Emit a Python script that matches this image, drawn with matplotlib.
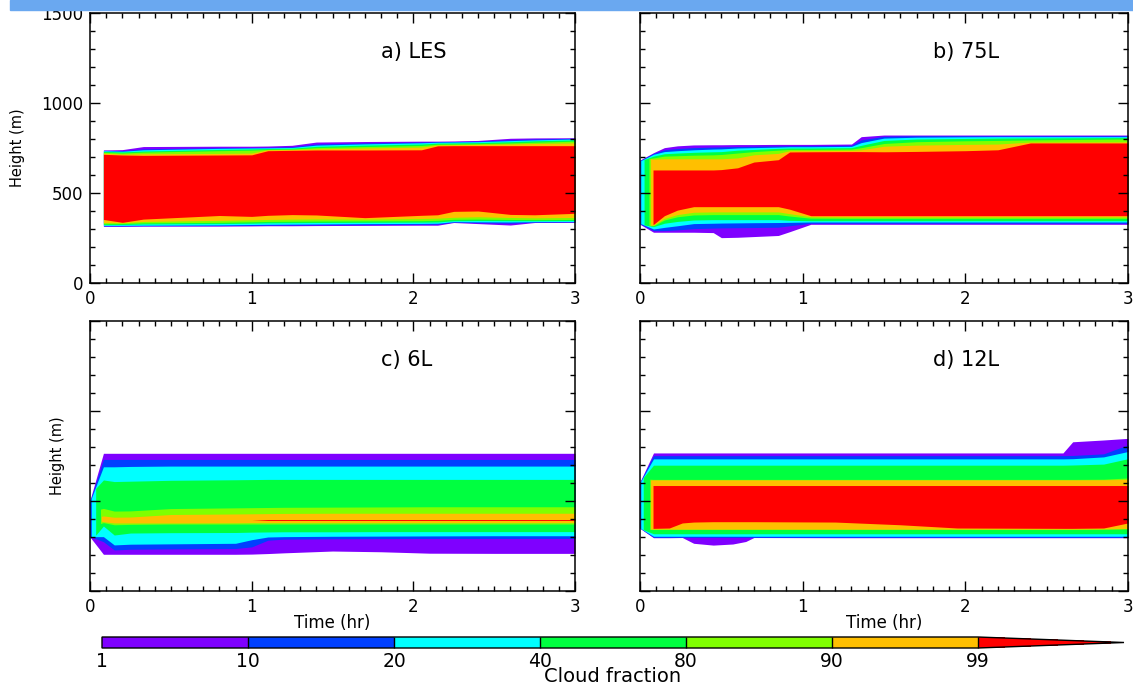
import numpy as np
import matplotlib
matplotlib.use("Agg")
import matplotlib.pyplot as plt
from matplotlib.colors import ListedColormap, BoundaryNorm
from matplotlib.cm import ScalarMappable
from matplotlib.patches import Rectangle
from matplotlib.ticker import MultipleLocator

plt.rcParams['font.family'] = ['DejaVu Sans']

# cloud fraction contour levels (%) and their fill colours
levels = [1, 10, 20, 40, 80, 90, 99]
colors = ['#7f00ff', '#0040ff', '#00ffff', '#00ff40', '#80ff00', '#ffbf00', '#ff0000']

# each panel: times (hr), then for every level the top / bottom height (m)
# of the region where cloud fraction >= level.  For b, c, d the first column
# is the left edge of the cloud, reached at the per-level onset time.

# a) LES
a_t = [0.083, 0.2, 0.33, 0.8, 1.0, 1.1, 1.25, 1.4, 1.7, 2.05, 2.15, 2.25, 2.4, 2.6, 2.75, 3.0]
a_top = [
    [739, 741, 758, 760, 760, 761, 765, 783, 786, 788, 788, 789, 792, 804, 806, 807],
    [737, 735, 745, 752, 753, 754, 757, 772, 778, 783, 785, 786, 788, 796, 800, 804],
    [735, 732, 740, 748, 750, 751, 753, 766, 773, 779, 782, 783, 785, 791, 795, 800],
    [731, 728, 733, 742, 745, 747, 749, 759, 766, 772, 777, 778, 780, 785, 790, 795],
    [726, 722, 727, 735, 738, 742, 744, 752, 758, 764, 771, 772, 774, 778, 782, 788],
    [721, 716, 718, 720, 722, 740, 741, 745, 750, 755, 767, 768, 770, 772, 775, 778],
    [715, 711, 709, 711, 712, 735, 737, 739, 739, 740, 762, 763, 763, 763, 763, 763],
]
a_bot = [
    [315, 315, 316, 316, 317, 318, 318, 319, 320, 321, 321, 336, 330, 322, 336, 337],
    [317, 317, 318, 319, 320, 321, 322, 323, 324, 326, 327, 338, 335, 332, 338, 339],
    [320, 320, 321, 323, 325, 326, 327, 328, 330, 331, 332, 341, 340, 339, 341, 342],
    [324, 325, 328, 330, 332, 334, 335, 336, 337, 338, 339, 346, 347, 346, 346, 347],
    [329, 330, 334, 337, 340, 342, 343, 344, 345, 346, 348, 354, 355, 353, 352, 353],
    [336, 335, 342, 348, 351, 353, 355, 356, 355, 358, 360, 365, 368, 364, 362, 364],
    [353, 337, 355, 375, 370, 376, 380, 378, 363, 376, 379, 398, 400, 381, 379, 387],
]

# b) 75L
b_t = [0, 0.083, 0.15, 0.23, 0.33, 0.45, 0.5, 0.6, 0.7, 0.85, 0.92, 1.05, 1.3, 1.36, 1.5, 1.7, 2.0, 2.2, 2.4, 3.0]
b_onset = [0, 0, 0.005, 0.025, 0.055, 0.065, 0.08]
b_top = [
    [683, 724, 752, 762, 767, 768, 768, 769, 769, 770, 770, 770, 772, 813, 822, 822, 822, 822, 822, 822],
    [681, 720, 740, 747, 752, 755, 756, 758, 760, 762, 763, 763, 765, 795, 815, 818, 818, 818, 818, 818],
    [680, 715, 730, 735, 740, 744, 745, 750, 752, 755, 757, 757, 759, 780, 805, 810, 812, 813, 813, 813],
    [686, 705, 718, 722, 726, 729, 730, 738, 742, 748, 750, 750, 752, 765, 792, 800, 803, 805, 806, 808],
    [692, 695, 705, 707, 710, 712, 714, 722, 730, 738, 742, 742, 744, 752, 775, 785, 790, 792, 795, 800],
    [690, 688, 690, 690, 690, 690, 690, 695, 712, 720, 735, 735, 737, 740, 760, 766, 770, 772, 783, 784],
    [628, 628, 628, 628, 628, 628, 630, 640, 672, 685, 728, 729, 730, 730, 729, 731, 735, 740, 778, 778],
]
b_bot = [
    [326, 282, 282, 282, 282, 280, 252, 254, 258, 264, 285, 326, 326, 326, 326, 326, 326, 326, 326, 326],
    [328, 291, 291, 295, 302, 305, 306, 307, 308, 310, 318, 332, 332, 332, 332, 332, 332, 332, 332, 332],
    [330, 300, 309, 318, 330, 332, 333, 334, 335, 336, 337, 339, 339, 339, 339, 339, 339, 339, 339, 339],
    [323, 313, 332, 342, 350, 352, 352, 352, 352, 352, 348, 346, 346, 346, 346, 346, 346, 346, 346, 346],
    [320, 318, 350, 368, 378, 380, 380, 380, 380, 380, 372, 360, 359, 359, 359, 359, 359, 359, 359, 359],
    [321, 322, 359, 380, 393, 395, 395, 395, 395, 395, 385, 368, 367, 367, 367, 367, 367, 367, 367, 367],
    [326, 326, 374, 405, 424, 424, 424, 424, 424, 424, 410, 374, 374, 374, 374, 374, 374, 374, 374, 374],
]

# c) 6L
c_t = [0, 0.083, 0.15, 0.25, 0.5, 0.9, 1.0, 1.1, 1.2, 1.5, 1.8, 2.1, 2.5, 3.0]
c_onset = [0, 0, 0.008, 0.035, 0.065, 0.07, 0.083]
c_top = [
    [505, 765, 765, 765, 765, 765, 765, 765, 765, 765, 765, 765, 765, 765],
    [500, 731, 731, 731, 731, 731, 731, 731, 731, 731, 731, 731, 731, 731],
    [515, 690, 690, 692, 694, 694, 694, 694, 694, 694, 694, 694, 694, 694],
    [570, 617, 608, 610, 615, 618, 619, 620, 620, 620, 620, 620, 620, 620],
    [455, 459, 444, 445, 458, 462, 463, 464, 465, 466, 467, 468, 468, 468],
    [415, 417, 410, 411, 425, 428, 429, 430, 431, 432, 432, 432, 432, 432],
    [394, 394, 394, 394, 394, 394, 394, 397, 397, 397, 397, 397, 397, 397],
]
c_bot = [
    [300, 204, 204, 204, 204, 204, 205, 208, 212, 222, 218, 210, 209, 209],
    [303, 274, 228, 232, 234, 236, 245, 282, 288, 290, 291, 292, 292, 292],
    [302, 302, 256, 260, 262, 265, 285, 300, 302, 304, 305, 306, 307, 307],
    [310, 361, 311, 322, 324, 325, 327, 328, 329, 329, 330, 330, 330, 330],
    [375, 380, 368, 370, 372, 372, 372, 372, 372, 372, 372, 372, 372, 372],
    [388, 385, 378, 378, 378, 379, 380, 380, 380, 380, 380, 380, 380, 380],
    [394, 394, 394, 394, 394, 394, 394, 392, 392, 392, 392, 392, 392, 392],
]

# d) 12L
d_t = [0, 0.083, 0.18, 0.26, 0.33, 0.45, 0.57, 0.65, 0.70, 1.2, 1.6, 1.95, 2.6, 2.66, 2.85, 3.0]
d_onset = [0, 0, 0.005, 0.02, 0.06, 0.065, 0.08]
d_top = [
    [607, 767, 767, 767, 767, 767, 767, 767, 767, 767, 767, 767, 767, 829, 839, 848],
    [605, 752, 752, 752, 752, 752, 752, 752, 752, 752, 752, 752, 752, 753, 762, 812],
    [610, 734, 734, 734, 734, 734, 734, 734, 734, 734, 734, 734, 734, 735, 745, 775],
    [630, 699, 699, 699, 699, 699, 699, 699, 699, 699, 699, 699, 699, 700, 705, 735],
    [621, 620, 620, 620, 620, 620, 620, 620, 620, 620, 620, 620, 620, 620, 621, 628],
    [617, 617, 617, 617, 617, 617, 617, 617, 617, 617, 617, 617, 617, 617, 618, 620],
    [586, 586, 586, 586, 586, 586, 586, 586, 586, 586, 586, 586, 586, 586, 586, 586],
]
d_bot = [
    [348, 296, 296, 297, 265, 255, 261, 275, 297, 296, 296, 296, 296, 296, 296, 296],
    [349, 298, 298, 298, 298, 298, 298, 298, 298, 298, 298, 298, 298, 298, 298, 298],
    [347, 304, 304, 304, 304, 304, 304, 304, 304, 304, 304, 304, 304, 304, 304, 304],
    [341, 318, 318, 318, 318, 318, 318, 318, 318, 318, 318, 318, 318, 318, 318, 318],
    [342, 342, 342, 342, 342, 342, 342, 342, 342, 342, 342, 342, 342, 342, 343, 345],
    [344, 344, 344, 344, 344, 344, 344, 344, 344, 344, 344, 344, 344, 344, 345, 347],
    [348, 348, 350, 378, 383, 385, 385, 385, 385, 383, 368, 350, 348, 348, 350, 378],
]

cmap = ListedColormap(colors[:-1]).with_extremes(over=colors[-1])
norm = BoundaryNorm(levels, cmap.N)

W, H = 1133, 685
fig = plt.figure(figsize=(W / 100, H / 100), dpi=100)


def px_axes(l, t, r, b):
    return fig.add_axes([l / W, 1 - b / H, (r - l) / W, (b - t) / H])


def draw_cloud(ax, t, top, bot, onset=None):
    for k, lev in enumerate(levels):
        tt = np.array(t, dtype=float)
        if onset is not None:
            tt[0] = onset[k]
        ax.fill_between(tt, bot[k], top[k], color=cmap(norm(lev)), lw=0)


def style(ax, ylabels):
    ax.set_xlim(0, 3)
    ax.set_ylim(0, 1500)
    ax.xaxis.set_major_locator(MultipleLocator(1))
    ax.xaxis.set_minor_locator(MultipleLocator(0.1))
    ax.yaxis.set_major_locator(MultipleLocator(500))
    ax.yaxis.set_minor_locator(MultipleLocator(100))
    ax.tick_params(which='both', direction='in', top=True, right=True,
                   labelsize=12, pad=5, labelleft=ylabels)
    ax.tick_params(which='major', length=7, width=1)
    ax.tick_params(which='minor', length=3.5, width=1)
    for s in ax.spines.values():
        s.set_linewidth(1.1)


panels = [
    ((90, 13, 575, 283), a_t, a_top, a_bot, None, 'a) LES'),
    ((640, 13, 1128, 283), b_t, b_top, b_bot, b_onset, 'b) 75L'),
    ((90, 321, 575, 591), c_t, c_top, c_bot, c_onset, 'c) 6L'),
    ((640, 321, 1128, 591), d_t, d_top, d_bot, d_onset, 'd) 12L'),
]
axes = []
for i, (box, t, top, bot, onset, title) in enumerate(panels):
    ax = px_axes(*box)
    draw_cloud(ax, t, top, bot, onset)
    style(ax, i == 0)
    ax.text(0.60, 0.855, title, transform=ax.transAxes, fontsize=15, va='center')
    axes.append(ax)

ax_a, ax_b, ax_c, ax_d = axes
ax_a.text(-0.1485, 0.5, 'Height (m)', transform=ax_a.transAxes, rotation=90,
          fontsize=10.5, ha='center', va='center')
ax_c.text(-0.068, 0.5, 'Height (m)', transform=ax_c.transAxes, rotation=90,
          fontsize=10.5, ha='center', va='center')
for ax in (ax_c, ax_d):
    ax.text(0.5, -0.1185, 'Time (hr)', transform=ax.transAxes,
            fontsize=12, ha='center', va='center')

# colour bar with a long triangle for >99
cax = fig.add_axes([102 / W, 1 - 648 / H, 1022 / W, 11 / H])
cb = fig.colorbar(ScalarMappable(norm=norm, cmap=cmap), cax=cax,
                  orientation='horizontal', extend='max', extendfrac=1 / 6,
                  drawedges=True, ticks=levels, spacing='uniform')
cb.outline.set_linewidth(1)
cb.dividers.set_linewidth(1)
cax.tick_params(length=0, pad=3, labelsize=13.5)
fig.text(613 / W, 1 - 676 / H, 'Cloud fraction', fontsize=14, ha='center', va='center')

# light blue strip along the top edge
fig.add_artist(Rectangle((10 / W, 1 - 10 / H), 1 - 10 / W, 10 / H,
                         transform=fig.transFigure, color='#6aa8f0', zorder=10))

fig.savefig('out.png', dpi=100)
